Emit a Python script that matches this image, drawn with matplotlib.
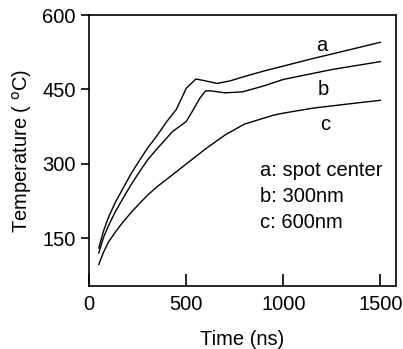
import numpy as np
import matplotlib.pyplot as plt

plt.rcParams['font.family'] = ['Liberation Sans', 'DejaVu Sans']

# curve a: spot center
time_a = [50, 75, 100, 135, 170, 215, 260, 300, 345, 400, 450, 500, 550, 600, 660, 725, 800, 900, 1000, 1150, 1300, 1500]
temp_a = [130, 165, 192, 222, 247, 279, 307, 331, 354, 385, 410, 452, 471, 467, 462, 467, 476, 487, 497, 512, 526, 545]

# curve b: 300nm
time_b = [50, 75, 100, 135, 170, 215, 260, 300, 345, 430, 500, 535, 570, 600, 625, 700, 790, 900, 1000, 1250, 1500]
temp_b = [120, 152, 175, 203, 227, 257, 284, 307, 328, 365, 385, 408, 432, 447, 447, 443, 445, 457, 470, 490, 506]

# curve c: 600nm
time_c = [50, 75, 100, 135, 170, 215, 260, 300, 345, 450, 515, 600, 700, 800, 950, 1000, 1150, 1300, 1500]
temp_c = [97, 122, 142, 162, 180, 201, 220, 236, 252, 284, 304, 330, 358, 380, 398, 402, 412, 419, 428]

labels = ['a', 'b', 'c']
legend_lines = ['a: spot center', 'b: 300nm', 'c: 600nm']

fs = 14.5

fig = plt.figure(figsize=(4.03, 3.49), dpi=100)
ax = fig.add_axes([0.221, 0.18, 0.762, 0.777])

for t, T in [(time_a, temp_a), (time_b, temp_b), (time_c, temp_c)]:
    ax.plot(t, T, color='black', lw=1.0)

# curve letters
ax.text(1200, 539, labels[0], fontsize=fs, ha='center', va='center')
ax.text(1205, 449, labels[1], fontsize=fs, ha='center', va='center')
ax.text(1215, 380, labels[2], fontsize=fs, ha='center', va='center')

for i, s in enumerate(legend_lines):
    ax.text(880, 287 - i * 53, s, fontsize=fs, ha='left', va='center')

ax.set_xlim(0, 1581)
ax.set_ylim(53, 600)
ax.set_xticks([0, 500, 1000, 1500])
ax.set_yticks([150, 300, 450, 600])
ax.tick_params(axis='x', direction='in', length=9, width=1.2, labelsize=fs, pad=6)
ax.tick_params(axis='y', direction='out', length=6, width=1.2, labelsize=fs)
for sp in ax.spines.values():
    sp.set_linewidth(1.2)

ax.set_xlabel('Time (ns)', fontsize=fs, labelpad=12)
ax.set_ylabel(r'Temperature ( $^{\mathrm{o}}$C)', fontsize=fs, labelpad=6)

plt.savefig('out.png', dpi=100)
